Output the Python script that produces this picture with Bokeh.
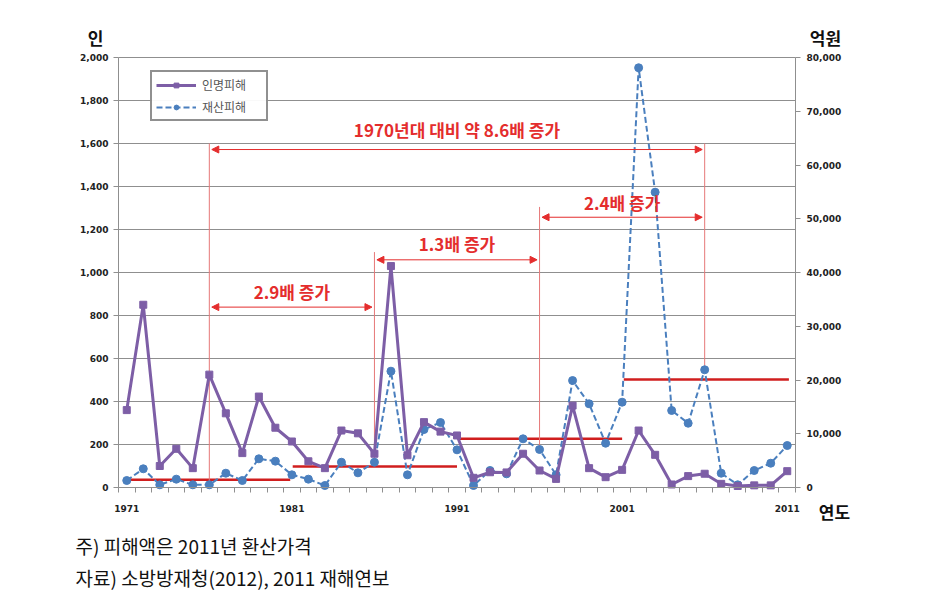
import numpy as np
from bokeh.plotting import figure
from bokeh.models import (Range1d, LinearAxis, FixedTicker, NumeralTickFormatter, Label,
                          Arrow, NormalHead, Legend, LegendItem, ColumnDataSource)
from bokeh.embed import file_html
from bokeh.resources import INLINE

# ---------------- data ----------------
years = list(range(1971, 2012))
casualties = [360, 850, 100, 180, 90, 525, 345, 160, 423, 278,
              214, 122, 90, 265, 252, 157, 1030, 150, 304, 260,
              242, 45, 71, 70, 157, 79, 40, 381, 90, 48,
              82, 265, 152, 14, 53, 64, 17, 7, 10, 10, 76]          # 인
property_dmg = [1300, 3480, 500, 1550, 500, 500, 2660, 1300, 5340, 4900,
                2360, 1550, 370, 4700, 2730, 4700, 21640, 2360, 10790, 12090,
                7010, 370, 3160, 2540, 9060, 7070, 2360, 19900, 15570, 8240,
                15870, 78090, 54940, 14330, 11960, 21900, 2660, 500, 3160, 4520, 7810]  # 억원

decade_start = [1971, 1981.05, 1991.1, 2001.1]
decade_end = [1980.9, 1991.0, 2001.0, 2011.1]
decade_level = [1430, 3900, 9060, 20090]          # 억원

x_tick_years = [1971, 1981, 1991, 2001, 2011]
left_ticks = list(range(0, 2001, 200))
right_ticks = list(range(0, 80001, 10000))

mark_years = [1976, 1986, 1996, 2006]
mark_tops = [1600, 1095, 1305, 1600]

arrow_x0 = [1976, 1976, 1986, 1996]
arrow_x1 = [2006, 1986, 1996, 2006]
arrow_y = [1572, 839, 1059, 1257]
arrow_text = ["1970년대 대비 약 8.6배 증가", "2.9배 증가", "1.3배 증가", "2.4배 증가"]
text_y = [1665, 912, 1135, 1326]

# ---------------- layout (pixels) ----------------
W, H = 916, 596
PL, PR, PT, PB = 118, 795, 57, 487          # plot area box on the canvas
X0, X1 = 1970.5, 2011.5
Y0, Y1 = 0, 2000
RY1 = 80000
sx = (PR - PL) / (X1 - X0)
sy = (PB - PT) / (Y1 - Y0)
ratio = RY1 / Y1


def px2x(px):
    return X0 + (px - PL) / sx


def py2y(py):
    return Y0 + (PB - py) / sy


# ---------------- styles ----------------
KR = "Noto Sans CJK KR"
NUM = "DejaVu Sans"
PURPLE = "#7d5ea6"
BLUE = "#4a7fbe"
RED = "#e42d2d"
DARKRED = "#d01e1e"
PINK = "#e67878"
GRID = "#8f8f8f"

yr = Range1d(py2y(H), py2y(0))
p = figure(width=W, height=H, min_border=0,
           x_range=Range1d(px2x(0), px2x(W)), y_range=yr,
           x_axis_location=None, y_axis_location=None,
           output_backend="svg", toolbar_location=None)
p.extra_y_ranges = {"right": Range1d(yr.start * ratio, yr.end * ratio)}
p.outline_line_color = None
p.background_fill_color = "white"
p.border_fill_color = "white"
p.grid.visible = False


def style_axis(ax):
    ax.axis_line_color = GRID
    ax.major_tick_line_color = GRID
    ax.minor_tick_line_color = None
    ax.major_tick_in = 0
    ax.major_tick_out = 5
    ax.major_label_text_font = NUM
    ax.major_label_text_font_style = "bold"
    ax.major_label_text_font_size = "9px"
    ax.major_label_text_color = "#222222"


# left axis
ly = LinearAxis(ticker=FixedTicker(ticks=left_ticks), formatter=NumeralTickFormatter(format="0,0"),
                fixed_location=X0, bounds=(Y0, Y1))
style_axis(ly)
ly.major_label_standoff = 5
p.add_layout(ly, "left")

# right axis
ry = LinearAxis(y_range_name="right", ticker=FixedTicker(ticks=right_ticks),
                formatter=NumeralTickFormatter(format="0,0"), fixed_location=X1, bounds=(0, RY1))
style_axis(ry)
ry.major_label_standoff = 6
p.add_layout(ry, "right")

# bottom axis
bx = LinearAxis(ticker=FixedTicker(ticks=x_tick_years, minor_ticks=list(np.arange(X0, X1 + 0.5, 1.0))),
                fixed_location=Y0, bounds=(X0, X1))
style_axis(bx)
bx.major_tick_out = 0
bx.minor_tick_in = 0
bx.minor_tick_out = 5
bx.minor_tick_line_color = GRID
bx.major_label_standoff = 12
p.add_layout(bx, "below")

# horizontal grid lines (at the left-axis ticks, across the plot area only)
p.segment(x0=X0, x1=X1, y0=left_ticks[1:], y1=left_ticks[1:], line_color=GRID,
          line_width=1, level="underlay")

# decade average lines
src_dec = ColumnDataSource(dict(x0=decade_start, x1=decade_end, y=decade_level))
p.segment(x0="x0", y0="y", x1="x1", y1="y", source=src_dec, y_range_name="right",
          line_color=DARKRED, line_width=2.5)

# vertical marker lines (from arrow level down to the property point)
mark_bottoms = [property_dmg[years.index(y)] / ratio for y in mark_years]
src_mark = ColumnDataSource(dict(x=mark_years, y0=mark_bottoms, y1=mark_tops))
p.segment(x0="x", y0="y0", x1="x", y1="y1", source=src_mark, line_color=PINK, line_width=1)

# series
src = ColumnDataSource(dict(year=years, cas=casualties, prop=property_dmg))
l2 = p.line("year", "prop", source=src, y_range_name="right", line_color=BLUE,
            line_width=2, line_dash="6 3")
s2 = p.scatter("year", "prop", source=src, y_range_name="right", marker="circle",
               size=8, fill_color=BLUE, line_color=BLUE)
l1 = p.line("year", "cas", source=src, line_color=PURPLE, line_width=3)
s1 = p.scatter("year", "cas", source=src, marker="square", size=7,
               fill_color=PURPLE, line_color=PURPLE)

# arrows and labels
for x0, x1, ya, txt, ty in zip(arrow_x0, arrow_x1, arrow_y, arrow_text, text_y):
    p.add_layout(Arrow(x_start=x0 + 0.15, x_end=x1 - 0.15, y_start=ya, y_end=ya,
                       line_color=RED, line_width=1,
                       start=NormalHead(size=7, fill_color=RED, line_color=RED),
                       end=NormalHead(size=7, fill_color=RED, line_color=RED)))
    p.add_layout(Label(x=(x0 + x1) / 2.0, y=ty, text=txt, text_font=KR,
                       text_font_style="bold", text_font_size="17px", text_color=RED,
                       text_align="center", text_baseline="middle"))

# legend
legend = Legend(items=[LegendItem(label="인명피해", renderers=[l1, s1]),
                       LegendItem(label="재산피해", renderers=[l2, s2])],
                location=(150, H - 121))
legend.border_line_color = "#222222"
legend.border_line_width = 2
legend.padding = 4
legend.spacing = 5
legend.glyph_width = 40
legend.glyph_height = 12
legend.label_height = 12
legend.label_width = 60
legend.label_standoff = 6
legend.label_text_font = KR
legend.label_text_font_size = "12px"
legend.label_text_color = "#555555"
legend.margin = 0
p.add_layout(legend)


# unit labels / notes
def add_text(px, py, t, size, bold=True, align="center"):
    p.add_layout(Label(x=px2x(px), y=py2y(py), text=t, text_font=KR, text_font_size=size,
                       text_font_style="bold" if bold else "normal", text_color="#111111",
                       text_align=align, text_baseline="middle"))


add_text(95, 37, "인", "17px")
add_text(825, 37, "억원", "17px")
add_text(834, 511, "연도", "17px")
add_text(75, 545, "주) 피해액은 2011년 환산가격", "19px", bold=False, align="left")
add_text(75, 577, "자료) 소방방재청(2012), 2011 재해연보", "19px", bold=False, align="left")

open("out.html", "w").write(file_html(p, INLINE))
